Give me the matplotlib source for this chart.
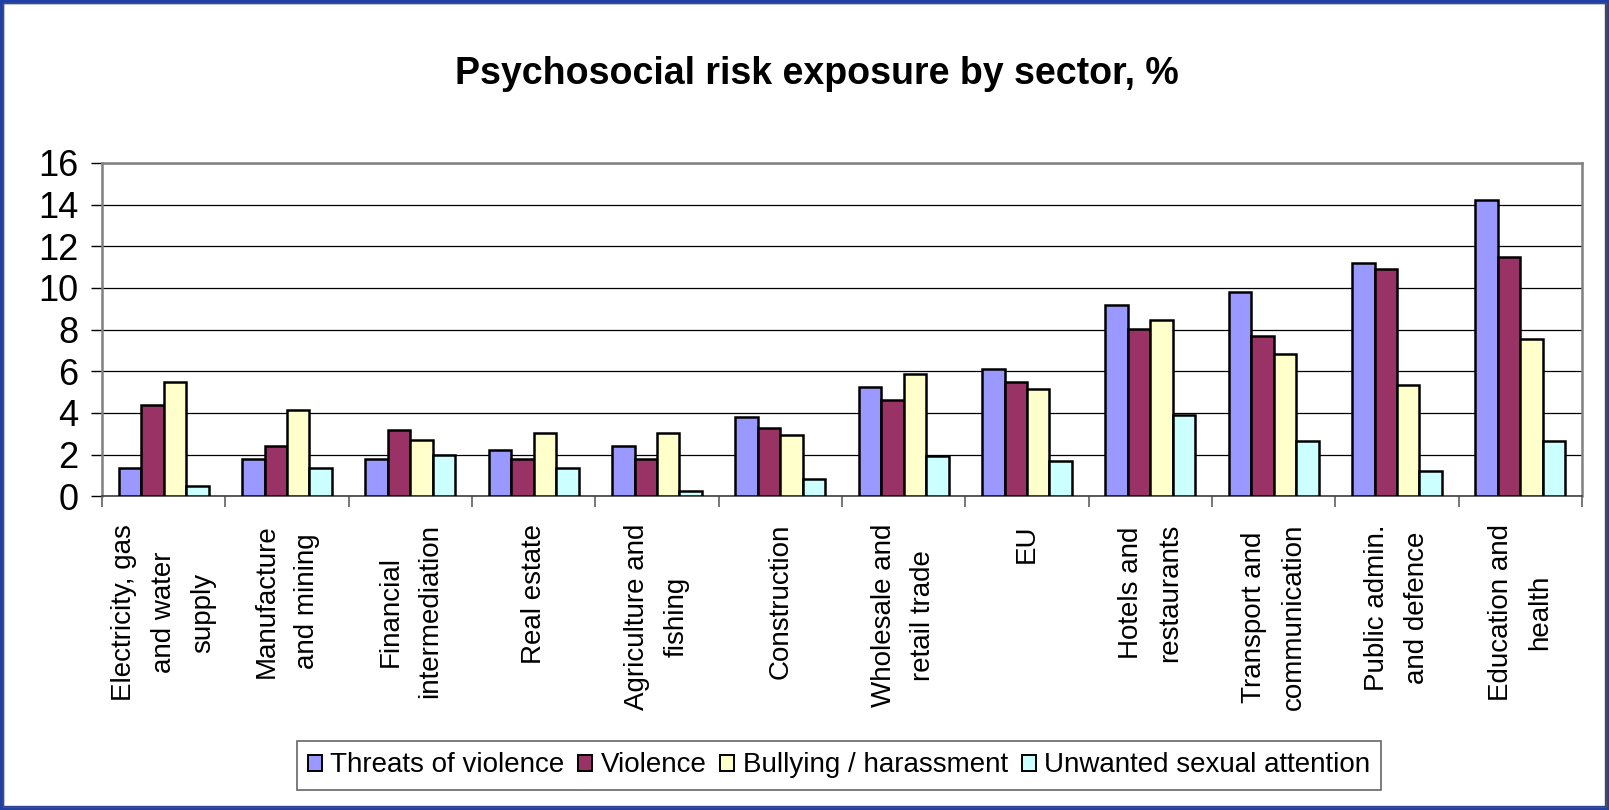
import matplotlib
matplotlib.use("Agg")
import matplotlib.pyplot as plt
import numpy as np
from matplotlib.patches import Rectangle

plt.rcParams['font.family'] = ['Liberation Sans', 'DejaVu Sans']

categories = [
    "Electricity, gas\nand water\nsupply",
    "Manufacture\nand mining",
    "Financial\nintermediation",
    "Real estate",
    "Agriculture and\nfishing",
    "Construction",
    "Wholesale and\nretail trade",
    "EU",
    "Hotels and\nrestaurants",
    "Transport and\ncommunication",
    "Public admin.\nand defence",
    "Education and\nhealth",
]
series_names = ["Threats of violence", "Violence", "Bullying / harassment",
                "Unwanted sexual attention"]
threats = [1.35, 1.8, 1.8, 2.2, 2.4, 3.8, 5.25, 6.1, 9.2, 9.8, 11.2, 14.2]
violence = [4.4, 2.4, 3.2, 1.8, 1.8, 3.3, 4.6, 5.5, 8.05, 7.7, 10.9, 11.5]
bullying = [5.5, 4.15, 2.7, 3.05, 3.05, 2.95, 5.85, 5.15, 8.45, 6.85, 5.35, 7.55]
unwanted = [0.5, 1.35, 2.0, 1.35, 0.25, 0.85, 1.95, 1.7, 3.9, 2.65, 1.2, 2.65]
yticks = [0, 2, 4, 6, 8, 10, 12, 14, 16]
title = "Psychosocial risk exposure by sector, %"

colors = ["#9999FF", "#993366", "#FFFFCC", "#CCFFFF"]

fig = plt.figure(figsize=(16.09, 8.10), dpi=100)
ax = fig.add_axes([102 / 1609, 1 - 496.3 / 810, 1480 / 1609, 333.3 / 810])

x = np.arange(len(categories))
w = 1 / 5.5
data = [threats, violence, bullying, unwanted]
for i, (vals, c, name) in enumerate(zip(data, colors, series_names)):
    ax.bar(x + (i - 1.5) * w, vals, width=w, color=c, edgecolor="black",
           linewidth=1.8, label=name, zorder=3)

ax.set_xlim(-0.5, len(categories) - 0.5)
ax.set_ylim(0, 16)
ax.set_yticks(yticks)
ax.set_yticklabels([str(v) for v in yticks], fontsize=26)
ax.tick_params(axis="y", length=8, width=1, color="black", pad=9)
ax.yaxis.grid(True, color="black", linewidth=0.9, zorder=0)
ax.set_axisbelow(True)

ax.set_xticks(x)
ax.set_xticklabels(categories, rotation=90, fontsize=20, linespacing=1.68,
                   multialignment="center", va="top", ha="center")
ax.tick_params(axis="x", which="major", length=0, pad=20)
ax.set_xticks(np.arange(-0.5, len(categories), 1), minor=True)
ax.tick_params(axis="x", which="minor", length=8, width=1.2, color="#606060")

for s in ["top", "right", "left"]:
    ax.spines[s].set_color("#808080")
    ax.spines[s].set_linewidth(1.8)
ax.spines["bottom"].set_color("#404040")
ax.spines["bottom"].set_linewidth(1.2)

fig.text(817 / 1609, 1 - 74 / 810, title, fontsize=27, fontweight="bold",
         ha="center", va="center")

leg = fig.legend(loc="center", bbox_to_anchor=(839 / 1609, 1 - 765.5 / 810),
                 ncol=4, fontsize=20, frameon=True, fancybox=False,
                 handlelength=0.5, handleheight=0.5, handletextpad=0.3,
                 columnspacing=0.5, borderpad=0.4)
leg.get_frame().set_edgecolor("#404040")
leg.get_frame().set_linewidth(1.2)
for h in leg.legend_handles:
    h.set_linewidth(1.4)

# blue slide frame
fig.patches.append(Rectangle((0, 0), 1, 1, transform=fig.transFigure,
                             fill=False, edgecolor="#1E3FA8", linewidth=6,
                             zorder=10))
fig.patches.append(Rectangle((3 / 1609, 3.5 / 810), 1 - 6.5 / 1609, 1 - 6 / 810,
                             transform=fig.transFigure, fill=False,
                             edgecolor="#505050", linewidth=1, zorder=11))

fig.savefig("out.png", dpi=100, facecolor="white")
